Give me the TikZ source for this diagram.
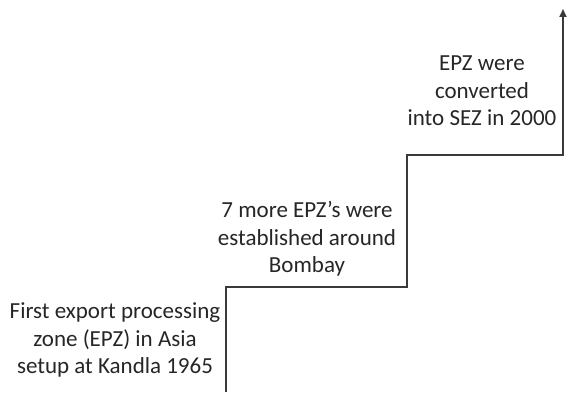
\documentclass[tikz,border=0pt]{standalone}
\usepackage{fontspec}
\setmainfont{Carlito}
\usetikzlibrary{arrows.meta}
\definecolor{linegray}{HTML}{3A3A3A}
\definecolor{textgray}{HTML}{262626}
\tikzset{
  label/.style={align=center, inner sep=0pt, text=textgray, font=\fontsize{23}{27.5}\selectfont},
  stair/.style={draw=linegray, line width=1.7pt, -{Triangle[length=8pt,width=7pt]}}
}
\begin{document}
\begin{tikzpicture}[x=1pt,y=1pt]
\useasboundingbox (0,0) rectangle (571,392);
\coordinate (s0) at (226,0);
\coordinate (s1) at (226,105);
\coordinate (s2) at (407,105);
\coordinate (s3) at (407,237);
\coordinate (s4) at (563,237);
\coordinate (s5) at (563,383);
\draw[stair] (s0) -- (s1) -- (s2) -- (s3) -- (s4) -- (s5);
\node[label] (t1) at (115,52) {First export processing\\zone (EPZ) in Asia\\setup at Kandla 1965};
\node[label] (t2) at (307,153) {7 more EPZ’s were\\established around\\Bombay};
\node[label] (t3) at (482,301) {EPZ were\\converted\\into SEZ in 2000};
\end{tikzpicture}
\end{document}
